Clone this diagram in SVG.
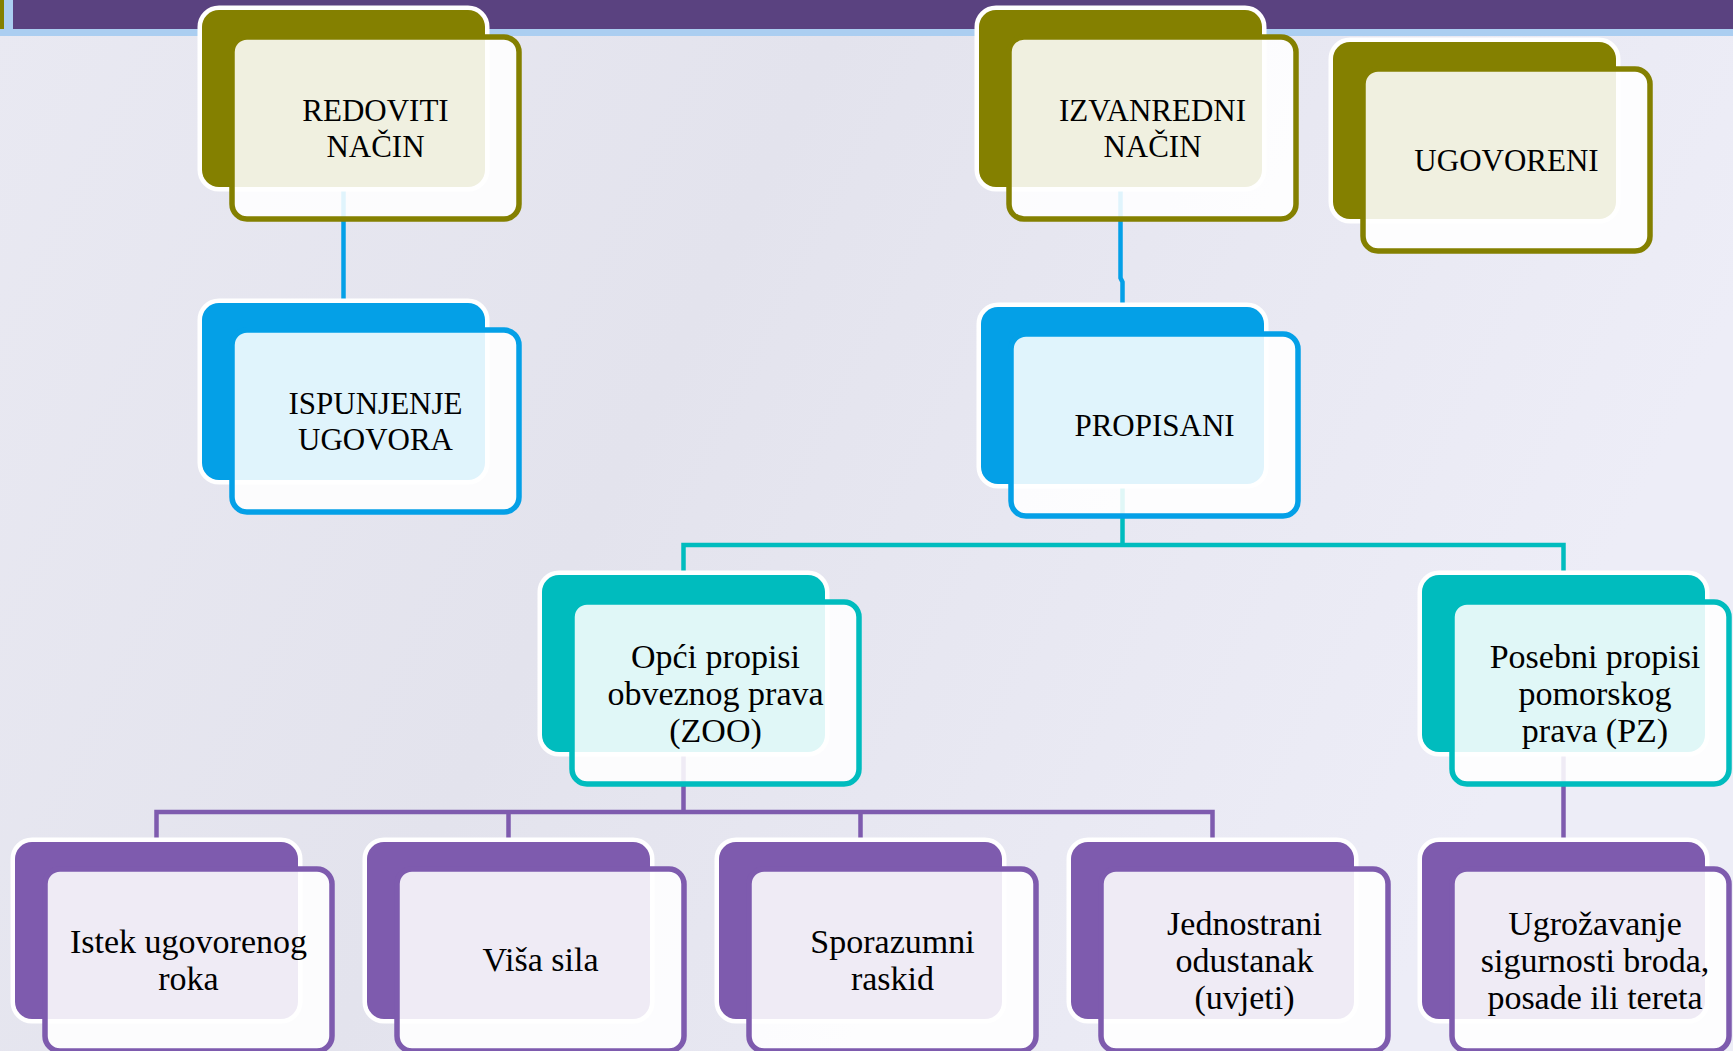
<svg xmlns="http://www.w3.org/2000/svg" width="1733" height="1051" viewBox="0 0 1733 1051">
<defs>
<linearGradient id="bg" x1="0" y1="0" x2="1" y2="0.3">
<stop offset="0" stop-color="#E9E9F2"/>
<stop offset="0.45" stop-color="#E3E3ED"/>
<stop offset="1" stop-color="#EDEDF7"/>
</linearGradient>
<style>
.b { stroke:#FFFFFF; stroke-width:9; paint-order:stroke; }
.f { fill:#FFFFFF; fill-opacity:0.88; stroke-width:5.5; }
.olive .b { fill:#848000; } .olive .f { stroke:#848000; }
.blue .b { fill:#04A0E7; } .blue .f { stroke:#04A0E7; }
.teal .b { fill:#00BCBE; } .teal .f { stroke:#00BCBE; }
.purple .b { fill:#7E5BAE; } .purple .f { stroke:#7E5BAE; }
text { font-family:"Liberation Serif","Times New Roman",serif; font-size:34px; text-anchor:middle; fill:#000000; }
text.cap { font-size:31px; }
.c { fill:none; stroke-width:4.5; }
</style>
</defs>
<rect x="0" y="0" width="1733" height="1051" fill="url(#bg)"/>
<rect x="0" y="0" width="1733" height="36" fill="#ABCEF1"/>
<rect x="13" y="0" width="1720" height="29" fill="#5A4280"/>
<rect x="0" y="0" width="4" height="29" fill="#848000"/>

<g id="connectors">
<path class="c" stroke="#04A0E7" d="M343.5,187 V303"/>
<path class="c" stroke="#04A0E7" d="M1120.5,187 V278 L1122.5,282 V307"/>
<path class="c" stroke="#00BCBE" d="M1122.5,484 V545 M683.5,575 V545 H1563.5 V575"/>
<path class="c" stroke="#7E5BAE" d="M683.5,752 V812 M156.5,842 V812 H1212.5 V842 M508.5,812 V842 M860.5,812 V842"/>
<path class="c" stroke="#7E5BAE" d="M1563.5,752 V842"/>
</g>

<g id="redoviti" class="olive" transform="translate(202,10)">
<rect class="b" width="283" height="177" rx="17"/>
<rect class="f" x="30" y="27" width="287" height="182" rx="15"/>
<text class="cap" x="173.5" y="111">REDOVITI</text>
<text class="cap" x="173.5" y="147">NAČIN</text>
</g>
<g id="izvanredni" class="olive" transform="translate(979,10)">
<rect class="b" width="283" height="177" rx="17"/>
<rect class="f" x="30" y="27" width="287" height="182" rx="15"/>
<text class="cap" x="173.5" y="111">IZVANREDNI</text>
<text class="cap" x="173.5" y="147">NAČIN</text>
</g>
<g id="ugovoreni" class="olive" transform="translate(1333,42)">
<rect class="b" width="283" height="177" rx="17"/>
<rect class="f" x="30" y="27" width="287" height="182" rx="15"/>
<text class="cap" x="173.5" y="129">UGOVORENI</text>
</g>
<g id="ispunjenje" class="blue" transform="translate(202,303)">
<rect class="b" width="283" height="177" rx="17"/>
<rect class="f" x="30" y="27" width="287" height="182" rx="15"/>
<text class="cap" x="173.5" y="111">ISPUNJENJE</text>
<text class="cap" x="173.5" y="147">UGOVORA</text>
</g>
<g id="propisani" class="blue" transform="translate(981,307)">
<rect class="b" width="283" height="177" rx="17"/>
<rect class="f" x="30" y="27" width="287" height="182" rx="15"/>
<text class="cap" x="173.5" y="129">PROPISANI</text>
</g>
<g id="opci" class="teal" transform="translate(542,575)">
<rect class="b" width="283" height="177" rx="17"/>
<rect class="f" x="30" y="27" width="287" height="182" rx="15"/>
<text x="173.5" y="92.5">Opći propisi</text>
<text x="173.5" y="129.5">obveznog prava</text>
<text x="173.5" y="166.5">(ZOO)</text>
</g>
<g id="posebni" class="teal" transform="translate(1422,575)">
<rect class="b" width="283" height="177" rx="17"/>
<rect class="f" x="30" y="27" width="277" height="182" rx="15"/>
<text x="173" y="92.5">Posebni propisi</text>
<text x="173" y="129.5">pomorskog</text>
<text x="173" y="166.5">prava (PZ)</text>
</g>
<g id="istek" class="purple" transform="translate(15,842)">
<rect class="b" width="283" height="177" rx="17"/>
<rect class="f" x="30" y="27" width="287" height="182" rx="15"/>
<text x="173.5" y="111">Istek ugovorenog</text>
<text x="173.5" y="148">roka</text>
</g>
<g id="visa" class="purple" transform="translate(367,842)">
<rect class="b" width="283" height="177" rx="17"/>
<rect class="f" x="30" y="27" width="287" height="182" rx="15"/>
<text x="173.5" y="129">Viša sila</text>
</g>
<g id="sporazumni" class="purple" transform="translate(719,842)">
<rect class="b" width="283" height="177" rx="17"/>
<rect class="f" x="30" y="27" width="287" height="182" rx="15"/>
<text x="173.5" y="111">Sporazumni</text>
<text x="173.5" y="148">raskid</text>
</g>
<g id="jednostrani" class="purple" transform="translate(1071,842)">
<rect class="b" width="283" height="177" rx="17"/>
<rect class="f" x="30" y="27" width="287" height="182" rx="15"/>
<text x="173.5" y="92.5">Jednostrani</text>
<text x="173.5" y="129.5">odustanak</text>
<text x="173.5" y="166.5">(uvjeti)</text>
</g>
<g id="ugrozavanje" class="purple" transform="translate(1422,842)">
<rect class="b" width="283" height="177" rx="17"/>
<rect class="f" x="30" y="27" width="277" height="182" rx="15"/>
<text x="173" y="92.5">Ugrožavanje</text>
<text x="173" y="129.5">sigurnosti broda,</text>
<text x="173" y="166.5">posade ili tereta</text>
</g>
</svg>
